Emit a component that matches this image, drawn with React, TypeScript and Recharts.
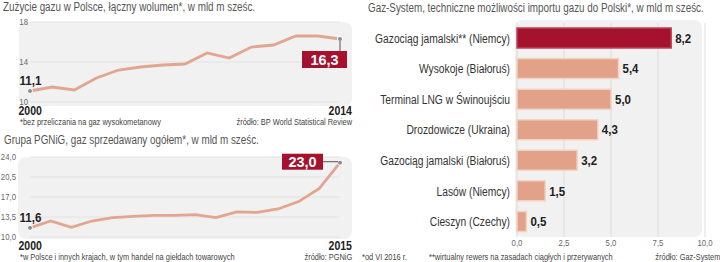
import { LineChart, Line, XAxis, YAxis, CartesianGrid, BarChart, Bar, Cell, LabelList } from 'recharts';

const FONT = "'Liberation Sans', Arial, sans-serif";
const RED = '#a5122e';
const SALMON = '#e2a189';
const LINE = '#e3a58f';
const BG = '#f1f1f1';

// Zużycie gazu w Polsce
const consumptionYears = [2000, 2001, 2002, 2003, 2004, 2005, 2006, 2007, 2008, 2009, 2010, 2011, 2012, 2013, 2014];
const consumptionValues = [11.1, 11.5, 11.2, 12.4, 13.2, 13.5, 13.7, 13.8, 14.9, 14.4, 15.5, 15.7, 16.6, 16.6, 16.3];
const consumptionTicks = [10, 14, 18];

// PGNiG
const salesYears = [2000, 2001, 2002, 2003, 2004, 2005, 2006, 2007, 2008, 2009, 2010, 2011, 2012, 2013, 2014, 2015];
const salesValues = [11.6, 12.8, 11.7, 12.8, 13.4, 13.6, 13.8, 13.8, 13.9, 13.4, 14.4, 14.3, 14.9, 16.2, 18.5, 23.0];
const salesTicks = [10, 13.5, 17, 20.5, 24];

// Gaz-System
const importPoints = [
    'Gazociąg jamalski** (Niemcy)',
    'Wysokoje (Białoruś)',
    'Terminal LNG w Świnoujściu',
    'Drozdowicze (Ukraina)',
    'Gazociąg jamalski (Białoruś)',
    'Lasów  (Niemcy)',
    'Cieszyn (Czechy)',
];
const importCapacity = [8.2, 5.4, 5.0, 4.3, 3.2, 1.5, 0.5];
const importTicks = [0, 2.5, 5, 7.5, 10];

const consumptionData = consumptionYears.map((year, i) => ({ year, value: consumptionValues[i] }));
const salesData = salesYears.map((year, i) => ({ year, value: salesValues[i] }));
const importData = importPoints.map((name, i) => ({ name, value: importCapacity[i] }));

const comma = (v: number, digits = 1) => v.toFixed(digits).replace('.', ',');

// narrow text: the original uses a condensed face, so squeeze Liberation Sans
const SText = ({ x, y, anchor = 'start', size, weight = 400, fill = '#222', sx = 0.86, children }: any) => (
    <text transform={`translate(${x},${y}) scale(${sx},1)`} textAnchor={anchor} fontSize={size}
        fontWeight={weight} fill={fill} fontFamily={FONT} dy="0.35em">
        {children}
    </text>
);

const YearTick = (props: any) => {
    const { x, y, index, payload } = props;
    const first = index === 0;
    return (
        <SText x={first ? x - 11.5 : x + 12} y={y + 8.5} anchor={first ? 'start' : 'end'} size={12} weight={700} sx={0.88}>
            {payload.value}
        </SText>
    );
};

const NumTick = (props: any) => {
    const { x, y, payload, textAnchor, fmt } = props;
    return (
        <SText x={x} y={y} anchor={textAnchor} size={9.5} fill="#666" sx={0.82}>
            {fmt ? fmt(payload.value) : payload.value}
        </SText>
    );
};

const CategoryTick = (props: any) => {
    const { x, y, payload } = props;
    return <SText x={x} y={y} anchor="end" size={12.5} fill="#333" sx={0.82}>{payload.value}</SText>;
};

const BarValue = (props: any) => {
    const { x, y, width, height, value } = props;
    return (
        <SText x={x + width + 4} y={y + height / 2} size={13.5} weight={700} fill="#222" sx={0.85}>
            {comma(Number(value))}
        </SText>
    );
};

const endDot = (count: number) => (props: any) => {
    const { cx, cy, index } = props;
    if (index !== 0 && index !== count - 1) return <g key={index} />;
    return <circle key={index} cx={cx} cy={cy} r={2.5} fill="#8c8c8c" stroke="#fff" strokeWidth={1} />;
};

const endLabel = (count: number, boxSide: 'below' | 'left') => (props: any) => {
    const { x, y, index, value } = props;
    const text = comma(Number(value));
    if (index === 0) {
        return <SText x={x - 10.5} y={y - 11} size={13.5} weight={700} sx={0.86}>{text}</SText>;
    }
    if (index !== count - 1) return null;
    if (boxSide === 'below') {
        return (
            <g>
                <line x1={x} y1={y + 2} x2={x} y2={y + 12} stroke="#555" strokeWidth={1} />
                <rect x={x - 38} y={y + 12} width={45} height={17} fill={RED} />
                <SText x={x - 15.5} y={y + 20.5} anchor="middle" size={15.5} weight={700} fill="#fff" sx={0.93}>{text}</SText>
            </g>
        );
    }
    return (
        <g>
            <line x1={x - 17} y1={y - 1} x2={x - 2} y2={y - 1} stroke="#555" strokeWidth={1} />
            <rect x={x - 58} y={y - 9} width={41} height={16} fill={RED} />
            <SText x={x - 37.5} y={y - 1} anchor="middle" size={15.5} weight={700} fill="#fff" sx={0.93}>{text}</SText>
        </g>
    );
};

const txt = (extra: React.CSSProperties, sx = 0.82, origin = 'left'): React.CSSProperties => ({
    position: 'absolute', fontFamily: FONT, whiteSpace: 'nowrap', lineHeight: 1,
    transform: `scaleX(${sx})`, transformOrigin: `${origin} center`, ...extra,
});

const note = (extra: React.CSSProperties, origin = 'left') => txt({ fontSize: 9.5, color: '#444', ...extra }, 0.78, origin);

export default function App() {
    return (
        <div style={{ position: 'absolute', left: 0, top: 0, width: 720, height: 262, background: '#fff', overflow: 'hidden', fontFamily: FONT }}>
            {/* backgrounds */}
            <div style={{ position: 'absolute', left: 19, top: 22, width: 333, height: 84, background: BG, borderRadius: 8 }} />
            <div style={{ position: 'absolute', left: 18, top: 157, width: 334, height: 82, background: BG, borderRadius: 8 }} />
            <div style={{ position: 'absolute', left: 515, top: 20, width: 187, height: 217, background: BG, borderRadius: 8 }} />

            {/* titles */}
            <div style={txt({ left: 3, top: 1, fontSize: 12, color: '#555' })}>Zużycie gazu w Polsce, łączny wolumen*, w mld m sześc.</div>
            <div style={txt({ left: 4, top: 134, fontSize: 12, color: '#555' })}>Grupa PGNiG, gaz sprzedawany ogółem*, w mld m sześc.</div>
            <div style={txt({ left: 368, top: 2, fontSize: 12, color: '#555' })}>Gaz-System, techniczne możliwości importu gazu do Polski*, w mld m sześc.</div>

            {/* footnotes */}
            <div style={note({ left: 20, top: 117 })}>*bez przeliczania na gaz wysokometanowy</div>
            <div style={note({ right: 368, top: 117 }, 'right')}>źródło: BP World Statistical Review</div>
            <div style={note({ left: 20, top: 252 })}>*w Polsce i innych krajach, w tym handel na giełdach towarowych</div>
            <div style={note({ right: 368, top: 252 }, 'right')}>źródło: PGNiG</div>
            <div style={note({ left: 362, top: 252 })}>*od VI 2016 r.</div>
            <div style={note({ left: 429, top: 252 })}>**wirtualny rewers na zasadach ciągłych i przerywanych</div>
            <div style={note({ right: 0, top: 252 }, 'right')}>źródło: Gaz-System</div>

            <div style={{ position: 'absolute', left: 0, top: 0 }}>
                <LineChart width={360} height={120} data={consumptionData} margin={{ top: 22, right: 20, bottom: 0, left: 0 }}>
                    <CartesianGrid vertical={false} stroke="#e3e3e3" />
                    <XAxis dataKey="year" type="number" domain={[2000, 2014]} ticks={[2000, 2014]} interval={0}
                        axisLine={false} tickLine={false} tickSize={0} tickMargin={0} height={18} tick={<YearTick />} />
                    <YAxis domain={[10, 18]} ticks={consumptionTicks} interval={0} width={30} axisLine={false}
                        tickLine={false} tickSize={0} tickMargin={2} tick={<NumTick />} />
                    <Line dataKey="value" stroke={LINE} strokeWidth={2.8} isAnimationActive={false}
                        dot={endDot(consumptionData.length)} activeDot={false}>
                        <LabelList dataKey="value" content={endLabel(consumptionData.length, 'below')} />
                    </Line>
                </LineChart>
            </div>

            <div style={{ position: 'absolute', left: 0, top: 135 }}>
                <LineChart width={360} height={120} data={salesData} margin={{ top: 22, right: 20, bottom: 0, left: 0 }}>
                    <CartesianGrid vertical={false} stroke="#e3e3e3" />
                    <XAxis dataKey="year" type="number" domain={[2000, 2015]} ticks={[2000, 2015]} interval={0}
                        axisLine={false} tickLine={false} tickSize={0} tickMargin={0} height={18} tick={<YearTick />} />
                    <YAxis domain={[10, 24]} ticks={salesTicks} interval={0} width={30} axisLine={false}
                        tickLine={false} tickSize={0} tickMargin={14} tick={<NumTick fmt={comma} />} />
                    <Line dataKey="value" stroke={LINE} strokeWidth={2.8} isAnimationActive={false}
                        dot={endDot(salesData.length)} activeDot={false}>
                        <LabelList dataKey="value" content={endLabel(salesData.length, 'left')} />
                    </Line>
                </LineChart>
            </div>

            <div style={{ position: 'absolute', left: 360, top: 0 }}>
                <BarChart width={360} height={250} data={importData} layout="vertical"
                    margin={{ top: 23, right: 15, bottom: 0, left: 0 }} barSize={20}>
                    <CartesianGrid horizontal={false} stroke="#dcdcdc" />
                    <XAxis type="number" domain={[0, 10]} ticks={importTicks} interval={0} axisLine={false}
                        tickLine={false} tickSize={0} tickMargin={6} height={13} tick={<NumTick fmt={comma} />} />
                    <YAxis type="category" dataKey="name" width={157} axisLine={false} tickLine={false}
                        tickSize={0} tickMargin={7} interval={0} tick={<CategoryTick />} />
                    <Bar dataKey="value" isAnimationActive={false}>
                        {importData.map((d, i) => (
                            <Cell key={d.name} fill={i === 0 ? RED : SALMON} stroke={i === 0 ? '#c04058' : '#f4d2c4'} strokeWidth={1.5} />
                        ))}
                        <LabelList dataKey="value" content={<BarValue />} />
                    </Bar>
                </BarChart>
            </div>
        </div>
    );
}
